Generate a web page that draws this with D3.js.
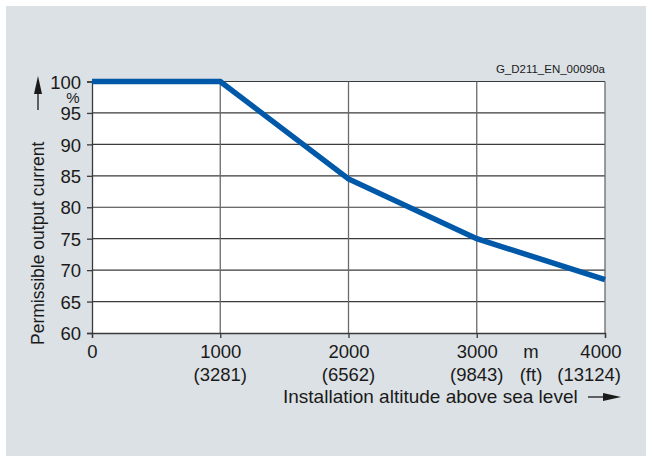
<!DOCTYPE html>
<html><head><meta charset="utf-8">
<script src="https://cdn.jsdelivr.net/npm/d3@7"></script>
<style>
html,body{margin:0;padding:0;background:#fff;}
svg text{font-family:"Liberation Sans",Arial,sans-serif;fill:#1a1a1a;}
</style></head>
<body><svg id="c" width="646" height="456"></svg>
<script>
const altitudes = [0, 1000, 2000, 3000, 4000];
const currentPct = [100, 100, 84.5, 75, 68.5];
const xTicks = [0, 1000, 2000, 3000, 4000];
const xTickFeet = ["", "(3281)", "(6562)", "(9843)", "(13124)"];
const yTicks = [60, 65, 70, 75, 80, 85, 90, 95, 100];

const svg = d3.select("#c");
svg.append("rect").attr("x",6).attr("y",6).attr("width",640).attr("height",450).attr("fill","#dce1e5");

const x = d3.scaleLinear().domain([0,4000]).range([92,605]);
const y = d3.scaleLinear().domain([60,100]).range([333,81.5]);

svg.append("rect").attr("x",x(0)).attr("y",y(100)).attr("width",x(4000)-x(0)).attr("height",y(60)-y(100)).attr("fill","#fff");

// grid
svg.append("g").selectAll("line").data(yTicks.filter(d=>d>60)).join("line")
  .attr("x1",x(0)).attr("x2",x(4000)).attr("y1",d=>y(d)).attr("y2",d=>y(d))
  .attr("stroke","#3a3a3a").attr("stroke-width",1.2);
svg.append("g").selectAll("line").data(xTicks.filter(d=>d>0)).join("line")
  .attr("x1",d=>x(d)).attr("x2",d=>x(d)).attr("y1",y(60)).attr("y2",y(100))
  .attr("stroke","#6a6a6a").attr("stroke-width",1.3);

// axes
const ya = svg.append("g").attr("transform",`translate(${x(0)},0)`)
  .call(d3.axisLeft(y).tickValues(yTicks).tickSize(5).tickPadding(6));
const xa = svg.append("g").attr("transform",`translate(0,${y(60)})`)
  .call(d3.axisBottom(x).tickValues(xTicks).tickSize(5).tickPadding(7).tickFormat(d3.format("d")));
[ya,xa].forEach(a=>{
  a.select(".domain").attr("stroke","#3a3a3a").attr("stroke-width",1.3);
  a.selectAll(".tick line").attr("stroke","#3a3a3a").attr("stroke-width",1.3);
  a.selectAll("text").attr("font-size",18.5).attr("fill","#1a1a1a").attr("font-family","Liberation Sans, Arial, sans-serif");
});
ya.selectAll(".tick text").attr("dy","0.36em");
xa.selectAll(".tick text").filter(d=>d===4000).attr("text-anchor","end").attr("x",16);

// feet labels
svg.append("g").selectAll("text").data(xTicks).join("text")
  .attr("x",d=>d===4000 ? x(d)+16 : x(d)).attr("y",381)
  .attr("text-anchor",d=>d===4000 ? "end" : "middle").attr("font-size",18.5)
  .text((d,i)=>xTickFeet[i]);
svg.append("text").attr("x",531).attr("y",358).attr("text-anchor","middle").attr("font-size",18.5).text("m");
svg.append("text").attr("x",531).attr("y",381).attr("text-anchor","middle").attr("font-size",18.5).text("(ft)");
svg.append("text").attr("x",73).attr("y",103).attr("text-anchor","middle").attr("font-size",15).text("%");

// x title + arrow
svg.append("text").attr("x",283).attr("y",403).attr("font-size",19).text("Installation altitude above sea level");
svg.append("line").attr("x1",588).attr("x2",608).attr("y1",397).attr("y2",397).attr("stroke","#1a1a1a").attr("stroke-width",1.3);
svg.append("path").attr("d","M603,393 L621,397 L603,401 Z").attr("fill","#1a1a1a");

// y title + arrow
svg.append("text").attr("transform","translate(44,345) rotate(-90)").attr("font-size",17.5).text("Permissible output current");
svg.append("line").attr("x1",38).attr("x2",38).attr("y1",110).attr("y2",88).attr("stroke","#1a1a1a").attr("stroke-width",1.3);
svg.append("path").attr("d","M34,94 L38,76 L42,94 Z").attr("fill","#1a1a1a");

// id label
svg.append("text").attr("x",605).attr("y",73).attr("text-anchor","end").attr("font-size",11.5).text("G_D211_EN_00090a");

// data line
const line = d3.line().x((d,i)=>x(altitudes[i])).y(d=>y(d));
svg.append("path").datum(currentPct).attr("d",line).attr("fill","none")
  .attr("stroke","#0058a8").attr("stroke-width",5.5).attr("stroke-linejoin","miter");
</script></body></html>
